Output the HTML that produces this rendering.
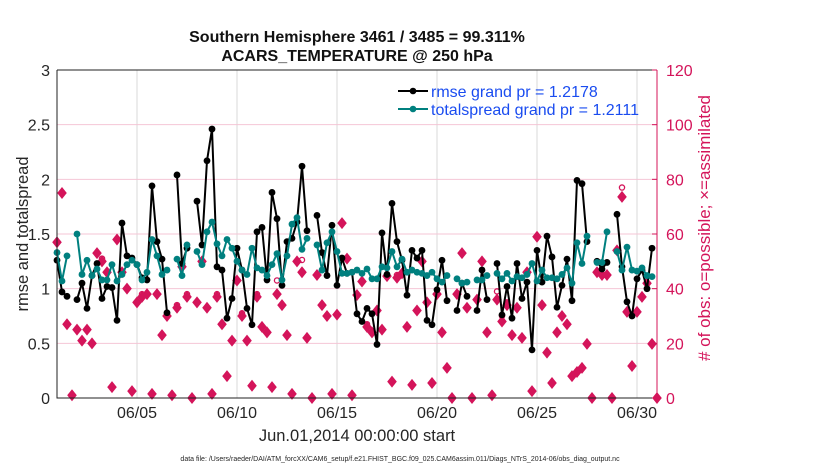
<!DOCTYPE html>
<html><head><meta charset="utf-8"><style>
body{margin:0;background:#fff}
svg text{font-family:"Liberation Sans",Arial,sans-serif}
</style></head><body>
<svg id="c" width="830" height="470" xmlns="http://www.w3.org/2000/svg"></svg>
<script>
const rmse=[1.26,0.97,0.93,null,0.9,1.05,0.82,1.12,1.23,0.91,1.02,1.01,0.71,1.6,1.3,1.28,1.22,1.1,1.08,1.94,1.43,1.27,0.78,null,2.04,1.23,1.37,null,1.8,1.4,2.17,2.46,1.2,1.17,0.73,0.91,1.37,1.17,0.82,0.67,1.52,1.56,1.08,1.88,1.64,1.03,1.43,1.46,1.61,2.12,1.53,null,1.67,1.33,1.12,1.58,1.03,1.28,1.14,1.15,0.77,0.7,0.82,0.77,0.49,1.51,1.13,1.78,1.43,1.26,0.94,1.35,1.28,1.35,0.71,0.67,0.99,1.26,0.89,null,0.8,1.05,0.93,null,0.8,1.17,0.9,null,1.23,0.76,1.02,0.73,1.23,0.91,1.06,0.44,1.35,1.06,1.48,1.29,0.83,1.03,1.27,0.89,1.99,1.96,1.43,null,1.25,1.18,1.24,null,1.68,1.2,0.88,0.75,1.09,1.17,1.0,1.37,null];
const spread=[1.33,1.07,1.3,null,1.5,1.13,1.26,1.12,1.18,1.08,1.08,1.22,1.07,1.13,1.22,1.26,1.22,1.08,1.15,1.45,1.3,1.13,1.17,null,1.27,1.12,1.4,null,1.34,1.22,1.52,1.61,1.41,1.3,1.45,1.37,1.25,1.17,1.13,1.37,1.19,1.17,1.12,1.22,1.32,1.08,1.3,1.59,1.65,1.36,1.46,null,1.4,1.17,1.42,1.52,1.34,1.14,1.14,1.15,1.17,1.14,1.18,1.09,1.09,1.2,1.19,1.34,1.2,1.27,1.15,1.17,1.15,1.14,1.12,1.15,1.09,1.06,1.12,null,1.09,1.05,1.06,null,1.08,1.08,1.12,null,1.14,1.09,1.14,1.07,1.11,1.1,1.13,1.23,1.07,1.17,1.1,1.1,1.09,1.13,1.19,1.05,1.42,1.23,1.48,null,1.24,1.24,1.52,null,1.34,1.17,1.38,1.17,1.16,1.19,1.12,1.11,null];
const obsUsed=[57,75,27,1,25,21,25,20,53,50,46,4,58,46,40,2.5,35,37,38,1.5,38,23,30,1,33,48,37,0,35,50,33,1.5,37,27,8,21,43,30,21,4.5,37,26,24,4,38,34,23,1.5,50,46,22,0,45,34,30,1.5,30.5,64,51,1,37.7,42.6,26,24,32,25,44.6,6,44,45.6,26,4.8,32,50,35,5.5,38,24,11,0,38,53,33,0,36,50,24,1,36,28,34,23,33,22,46,2.5,59,34,16.6,5.5,24,30,27,8,9.5,11,19.8,0,46,45,45,0,54,73.6,31.5,11.7,31.5,37,42,19.8,0];
const obsPoss=[57,75,27,1,25,21,25,20,53,51,46,4,58,46,40,2.5,35,38,38,1.5,38,23,31,1,34,48,38,0,35,50,33,1.5,38,27,8,21,43,31,21,4.5,38,26,24,4,43,34,23,1.5,50,50.5,22,0,45,34,30,1.5,30.5,64,51,1,37.7,42.6,27,24,32,25,44.6,6,45,45.6,26,4.8,32,50,35,5.5,38,24,11,0,38,53,33,0,36,50,24,1,39,30,35,23,33,22,46,2.5,59,34,16.6,5.5,24,30,27,8,9.5,11,19.8,0,46,45,45,0,54,77,31.5,11.7,31.5,37,42,19.8,0];
const xTicks=[5,10,15,20,25,30];
const xTickLabels=["06/05","06/10","06/15","06/20","06/25","06/30"];
const yTicks=[0,0.5,1,1.5,2,2.5,3];
const yTickLabels=["0","0.5","1","1.5","2","2.5","3"];
const y2Ticks=[0,20,40,60,80,100,120];

const L=57,R=657,T=70,B=398;
const xDay=d=>L+(d-1)*20;
const xIdx=i=>xDay(1+i*0.25);
const yL=v=>B-(v/3)*(B-T);
const yR=v=>B-(v/120)*(B-T);
const svg=document.getElementById('c');
const NS='http://www.w3.org/2000/svg';
function mk(tag,attrs,parent){const e=document.createElementNS(NS,tag);for(const k in attrs)e.setAttribute(k,attrs[k]);(parent||svg).appendChild(e);return e;}
const PINK='#d4145a',TEAL='#00807f';

xTicks.forEach((d,i)=>{
  const g=mk('line',{x1:xDay(d),x2:xDay(d),y1:T,y2:B,stroke:'#d8d8d8','stroke-width':1});
  
  
});
yTicks.forEach(v=>{
  if(v===0||v===3)return;
  const g=mk('line',{x1:L,x2:R,y1:yL(v),y2:yL(v),stroke:'#f4c6d6','stroke-width':1});
  
  
});

const obsG=mk('g',{});


obsPoss.forEach((v,i)=>{
  if(v==null||v===obsUsed[i])return;
  const c=mk('circle',{cx:xIdx(i),cy:yR(v),r:2.6,fill:'none',stroke:PINK,'stroke-width':1.3},obsG);
  
  
});
obsUsed.forEach((v,i)=>{
  if(v==null)return;
  const x=xIdx(i),y=yR(v);
  const p=mk('path',{d:`M${x} ${y-6}L${x+4.8} ${y}L${x} ${y+6}L${x-4.8} ${y}Z`,fill:PINK},obsG);
  
  
});

function series(arr,color,name){
  const g=mk('g',{});
  
  
  let d='',pen=false;
  arr.forEach((v,i)=>{
    if(v==null){pen=false;return;}
    d+=(pen?'L':'M')+xIdx(i).toFixed(1)+' '+yL(v).toFixed(1);pen=true;
  });
  const p=mk('path',{d:d,fill:'none',stroke:color,'stroke-width':2,'stroke-linejoin':'round'},g);
  
  
  arr.forEach((v,i)=>{
    if(v==null)return;
    const c=mk('circle',{cx:xIdx(i),cy:yL(v),r:3.4,fill:color},g);
    
    
  });
}
series(rmse,'#000','rmse-series');
series(spread,TEAL,'spread-series');

const ax=mk('path',{d:`M${L} ${T}H${R}M${L} ${T}V${B}H${R}`,fill:'none',stroke:'#222','stroke-width':1});


const ra=mk('line',{x1:R,x2:R,y1:T,y2:B,stroke:PINK,'stroke-width':1});



xTicks.forEach((d,i)=>{
  const t=mk('text',{x:xDay(d),y:418,'font-size':16,'text-anchor':'middle',fill:'#262626'});
  t.textContent=xTickLabels[i];
  
  
});
yTicks.forEach((v,i)=>{
  const t=mk('text',{x:L-7,y:yL(v)+6,'font-size':16,'text-anchor':'end',fill:'#262626'});
  t.textContent=yTickLabels[i];
  
  
});
y2Ticks.forEach(v=>{
  const t=mk('text',{x:R+9,y:yR(v)+6,'font-size':16,'text-anchor':'start',fill:PINK});
  t.textContent=String(v);
  
  
  const tk=mk('line',{x1:R-5,x2:R,y1:yR(v),y2:yR(v),stroke:PINK,'stroke-width':1});
  
  
});
</script>
<svg width="830" height="470" style="position:absolute;left:0;top:0" xmlns="http://www.w3.org/2000/svg">
<text x="357" y="42" font-size="16" font-weight="bold" text-anchor="middle" fill="#111">Southern Hemisphere 3461 / 3485 = 99.311%</text>
<text x="357" y="61" font-size="16" font-weight="bold" text-anchor="middle" fill="#111">ACARS_TEMPERATURE @ 250 hPa</text>
<text transform="translate(28,234) rotate(-90)" font-size="16.5" text-anchor="middle" fill="#262626">rmse and totalspread</text>
<text transform="translate(710,228) rotate(-90)" font-size="17" text-anchor="middle" fill="#d4145a"># of obs: o=possible; ×=assimilated</text>
<text x="357" y="441" font-size="16.5" text-anchor="middle" fill="#262626">Jun.01,2014 00:00:00 start</text>
<text x="400" y="461" font-size="7" text-anchor="middle" fill="#262626">data file: /Users/raeder/DAI/ATM_forcXX/CAM6_setup/f.e21.FHIST_BGC.f09_025.CAM6assim.011/Diags_NTrS_2014-06/obs_diag_output.nc</text>
<g>
<line x1="398" y1="91" x2="428" y2="91" stroke="#000" stroke-width="2"/>
<circle cx="413" cy="91" r="3.3" fill="#000"/>
<text x="431" y="97" font-size="16" fill="#1a4cf0">rmse grand pr = 1.2178</text>
<line x1="398" y1="109" x2="428" y2="109" stroke="#00807f" stroke-width="2"/>
<circle cx="413" cy="109" r="3.3" fill="#00807f"/>
<text x="431" y="115" font-size="16" fill="#1a4cf0">totalspread grand pr = 1.2111</text>
</g>
</svg>
</body></html>
